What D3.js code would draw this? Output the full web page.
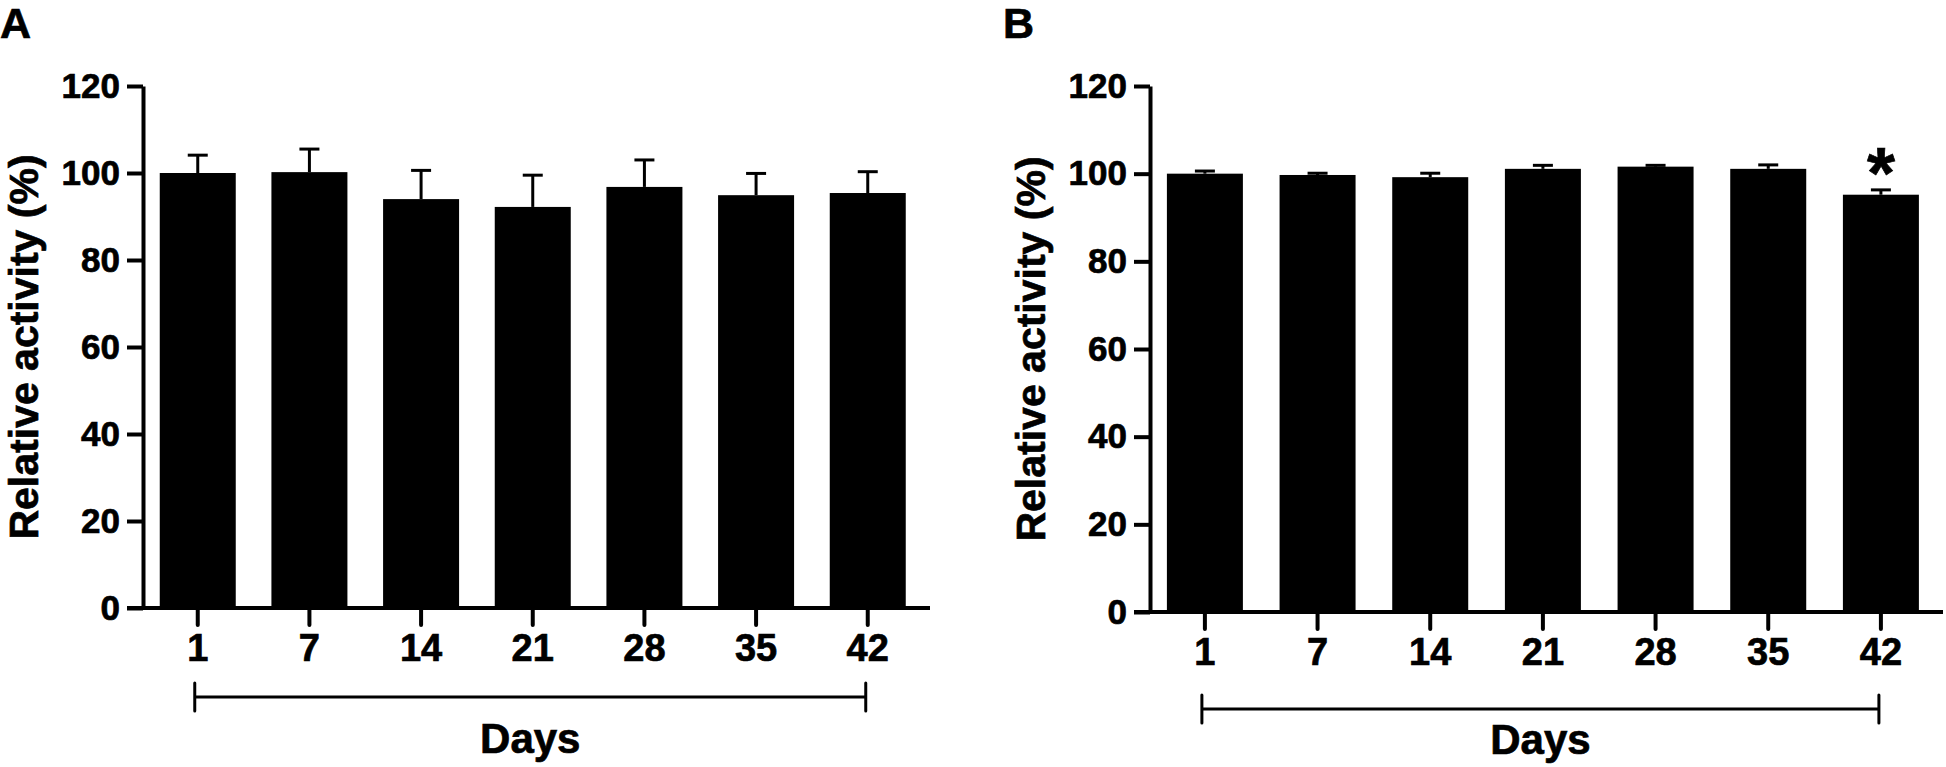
<!DOCTYPE html>
<html>
<head>
<meta charset="utf-8">
<script src="https://cdn.jsdelivr.net/npm/d3@7"></script>
<style>
  body { margin: 0; background: #fff; }
  text { font-family: "Liberation Sans", Arial, sans-serif; font-weight: bold; fill: #000; stroke: #000; stroke-width: 0.7px; }
</style>
</head>
<body>
<script>
const w = 1946
const h = 767

const days = ['1', '7', '14', '21', '28', '35', '42']
const yTicks = [0, 20, 40, 60, 80, 100, 120]

// panel A: mean and SD (upper bar only)
const meanA = [100, 100.2, 94, 92.2, 96.8, 94.9, 95.4]
const errA = [4.1, 5.3, 6.6, 7.3, 6.2, 5.0, 4.9]

// panel B
const meanB = [100, 99.7, 99.2, 101.1, 101.6, 101.1, 95.2]
const errB = [0.6, 0.4, 0.9, 0.8, 0.3, 0.9, 1.1]
const sigB = ['', '', '', '', '', '', '*']

const panels = [
  {label: 'A', means: meanA, errs: errA, sig: null,
   left: 143, right: 922.5, inner: 0.3194, axisEnd: 930,
   top: 86, bottom: 608, bracketY: 697, daysY: 753, titleX: 38, labelX: 0},
  {label: 'B', means: meanB, errs: errB, sig: sigB,
   left: 1150, right: 1935.8, inner: 0.3255, axisEnd: 1943,
   top: 86, bottom: 612, bracketY: 709, daysY: 754, titleX: 1045, labelX: 1003}
]

const svg = d3.select('body')
              .append('svg')
              .attr('width', w)
              .attr('height', h)

plot = (p) => {
  const g = svg.append('g')

  const xScale = d3.scaleBand()
                   .domain(days)
                   .range([p.left, p.right])
                   .paddingInner(p.inner)
                   .paddingOuter(0.15)

  const yScale = d3.scaleLinear()
                   .domain([0, 120])
                   .range([p.bottom, p.top])

  const cx = (d, i) => xScale(days[i]) + xScale.bandwidth() / 2

  // error bars (upper half only)
  g.selectAll('.stem')
    .data(p.means)
    .enter()
    .append('line')
    .attr('x1', cx)
    .attr('x2', cx)
    .attr('y1', (d) => yScale(d))
    .attr('y2', (d, i) => yScale(d + p.errs[i]))
    .attr('stroke', '#000')
    .attr('stroke-width', 3)

  g.selectAll('.cap')
    .data(p.means)
    .enter()
    .append('line')
    .attr('x1', (d, i) => cx(d, i) - 10)
    .attr('x2', (d, i) => cx(d, i) + 10)
    .attr('y1', (d, i) => yScale(d + p.errs[i]))
    .attr('y2', (d, i) => yScale(d + p.errs[i]))
    .attr('stroke', '#000')
    .attr('stroke-width', 3)

  g.selectAll('rect')
    .data(p.means)
    .enter()
    .append('rect')
    .attr('x', (d, i) => xScale(days[i]))
    .attr('y', (d) => yScale(d))
    .attr('width', xScale.bandwidth())
    .attr('height', (d) => yScale(0) - yScale(d))
    .attr('fill', '#000')

  if (p.sig) {
    g.selectAll('.sig')
      .data(p.sig)
      .enter()
      .append('text')
      .attr('x', cx)
      .attr('y', (d, i) => yScale(p.means[i] + p.errs[i]) + 8)
      .attr('text-anchor', 'middle')
      .style('font-size', '72px')
      .text((d) => d)
  }

  // y axis
  const yAxis = d3.axisLeft(yScale)
                  .tickValues(yTicks)
                  .tickSize(16)
                  .tickPadding(7)
                  .tickSizeOuter(0)

  const ya = g.append('g')
    .attr('transform', 'translate(' + p.left + ',0)')
    .call(yAxis)
  ya.selectAll('path, line').attr('stroke', '#000').attr('stroke-width', 4)
  ya.selectAll('text').style('font-size', '35px').style('font-family', null)

  // x axis
  const xAxis = d3.axisBottom(xScale)
                  .tickSize(17)
                  .tickPadding(9)
                  .tickSizeOuter(0)

  const xa = g.append('g')
    .attr('transform', 'translate(0,' + p.bottom + ')')
    .call(xAxis)
  xa.select('.domain').remove()
  xa.selectAll('line').attr('stroke', '#000').attr('stroke-width', 4).attr('stroke-linecap', 'round')
  xa.selectAll('text').style('font-size', '38px').style('font-family', null)

  g.append('line')
    .attr('x1', p.left - 16)
    .attr('x2', p.axisEnd)
    .attr('y1', p.bottom)
    .attr('y2', p.bottom)
    .attr('stroke', '#000')
    .attr('stroke-width', 4)

  // days bracket
  const b0 = cx(0, 0) - 3
  const b1 = cx(0, days.length - 1) - 2
  g.append('line')
    .attr('x1', b0).attr('x2', b1)
    .attr('y1', p.bracketY).attr('y2', p.bracketY)
    .attr('stroke', '#000').attr('stroke-width', 3)
  g.selectAll('.end')
    .data([b0, b1])
    .enter()
    .append('line')
    .attr('x1', (d) => d).attr('x2', (d) => d)
    .attr('y1', p.bracketY - 14).attr('y2', p.bracketY + 14)
    .attr('stroke', '#000').attr('stroke-width', 3).attr('stroke-linecap', 'round')

  g.append('text')
    .attr('x', (b0 + b1) / 2)
    .attr('y', p.daysY)
    .attr('text-anchor', 'middle')
    .style('font-size', '42px')
    .text('Days')

  g.append('text')
    .attr('transform', 'translate(' + p.titleX + ',' + (p.top + p.bottom) / 2 + ') rotate(-90)')
    .attr('text-anchor', 'middle')
    .style('font-size', '41px')
    .text('Relative activity (%)')

  g.append('text')
    .attr('x', p.labelX)
    .attr('y', 38)
    .style('font-size', '43px')
    .text(p.label)
}

panels.forEach(plot)
</script>
</body>
</html>
